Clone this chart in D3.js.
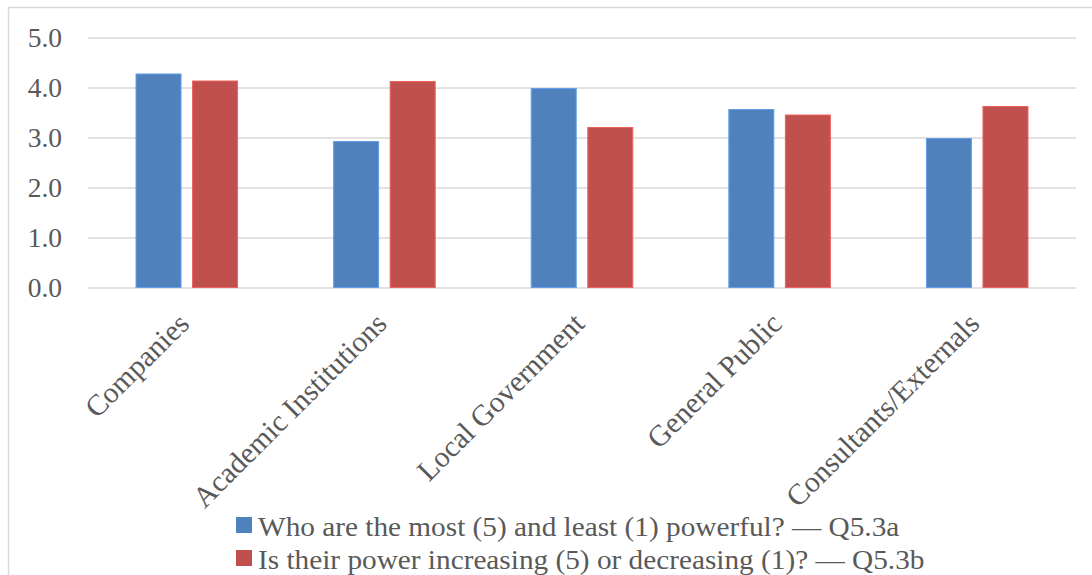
<!DOCTYPE html>
<html>
<head>
<meta charset="utf-8">
<script src="https://cdn.jsdelivr.net/npm/d3@7"></script>
<style>
  html, body { margin: 0; padding: 0; background: #fff; }
  svg { display: block; }
  text { font-family: "Liberation Serif", "Times New Roman", serif; fill: #595959; }
</style>
</head>
<body>
<svg id="chart" width="1092" height="575"></svg>
<script>
// Stakeholder power ratings (1–5 scale)
const categories = ["Companies", "Academic Institutions", "Local Government", "General Public", "Consultants/Externals"];
const seriesNames = [
  "Who are the most (5) and least (1) powerful? \u2014 Q5.3a",
  "Is their power increasing (5) or decreasing (1)? \u2014 Q5.3b"
];
const powerValues = [4.27, 2.92, 3.98, 3.56, 2.98];
const trendValues = [4.13, 4.12, 3.20, 3.45, 3.62];
const yTicks = [0, 1, 2, 3, 4, 5];
const seriesColors = ["#4f81bd", "#c0504d"];
const seriesValues = [powerValues, trendValues];

const svg = d3.select("#chart");
const W = 1092, H = 575;

// outer chart frame
svg.append("rect")
  .attr("x", 8.5).attr("y", 7.5)
  .attr("width", W + 20).attr("height", H + 20)
  .attr("fill", "#fff").attr("stroke", "#d9d9d9").attr("stroke-width", 1.5);

const plot = { left: 88, right: 1076, top: 37.5, bottom: 287.5 };

const y = d3.scaleLinear().domain([0, 5]).range([plot.bottom, plot.top]);

const x0 = d3.scaleBand()
  .domain(categories)
  .range([plot.left, plot.right])
  .paddingInner(0.486)
  .paddingOuter(0.243);

const x1 = d3.scaleBand()
  .domain(d3.range(seriesNames.length))
  .range([0, x0.bandwidth()])
  .paddingInner(0.204);

// horizontal gridlines and value labels
const yAxis = d3.axisLeft(y)
  .tickValues(yTicks)
  .tickSize(-(plot.right - plot.left))
  .tickPadding(26)
  .tickFormat(d3.format(".1f"));

const gy = svg.append("g")
  .attr("transform", `translate(${plot.left},0)`)
  .call(yAxis);
gy.select(".domain").remove();
gy.selectAll(".tick line").attr("stroke", "#d9d9d9").attr("stroke-width", 1.5);
gy.selectAll(".tick text")
  .attr("font-size", 27.5)
  .attr("fill", "#595959");

// bars
const groups = svg.append("g").selectAll("g")
  .data(categories)
  .join("g")
  .attr("transform", d => `translate(${x0(d)},0)`);

groups.selectAll("rect")
  .data((c, i) => seriesValues.map((vals, s) => ({ s, v: vals[i] })))
  .join("rect")
  .attr("x", d => x1(d.s))
  .attr("width", x1.bandwidth())
  .attr("y", d => y(d.v))
  .attr("height", d => y(0) - y(d.v))
  .attr("fill", d => seriesColors[d.s])
  .attr("stroke", d => d3.color(seriesColors[d.s]).brighter(0.6))
  .attr("stroke-width", 1);

// category labels, rotated
const xAxis = d3.axisBottom(x0).tickSize(0).tickPadding(0);
const gx = svg.append("g")
  .attr("transform", `translate(0,${plot.bottom})`)
  .call(xAxis);
gx.select(".domain").remove();
gx.selectAll(".tick text")
  .attr("font-size", 29.5)
  .attr("fill", "#595959")
  .attr("text-anchor", "end")
  .attr("dy", null)
  .attr("y", 0)
  .attr("transform", "translate(4,38) rotate(-45)");

// legend
const legend = svg.append("g").attr("transform", "translate(236,517)");
seriesNames.forEach((name, i) => {
  const row = legend.append("g").attr("transform", `translate(0,${i * 33})`);
  row.append("rect")
    .attr("width", 16).attr("height", 16)
    .attr("fill", seriesColors[i]);
  row.append("text")
    .attr("transform", "translate(22,19) scale(1.065,1)")
    .attr("font-size", 27.5)
    .text(name);
});
</script>
</body>
</html>
